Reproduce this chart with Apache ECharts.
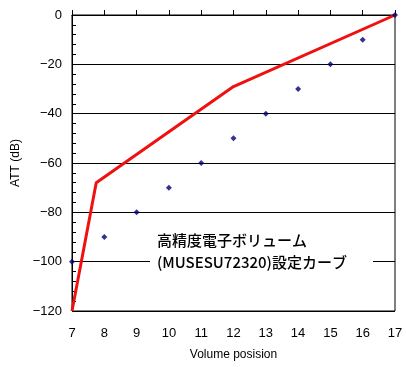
<!DOCTYPE html>
<html><head><meta charset="utf-8">
<script src="https://cdn.jsdelivr.net/npm/echarts@6/dist/echarts.min.js"></script>
<style>html,body{margin:0;padding:0;background:#fff}#c{width:406px;height:367px}</style>
</head><body><div id="c"></div>
<script>
var positions = [7, 8, 9, 10, 11, 12, 13, 14, 15, 16, 17];
var attValues = [-100, -90, -80, -70, -60, -50, -40, -30, -20, -10, 0];
var curveX = [7, 7.75, 12, 17];
var curveY = [-120, -68, -29, 0];
var yTicks = [-120, -100, -80, -60, -40, -20, 0];
var xTitle = 'Volume posision';
var yTitle = 'ATT (dB)';
var noteText = '高精度電子ボリューム\n(MUSESU72320)設定カーブ';

var chart = echarts.init(document.getElementById('c'));
var font = 'Liberation Sans, Arial, sans-serif';
chart.setOption({
  animation: false,
  backgroundColor: '#fff',
  grid: {left: 72, right: 11, top: 15, bottom: 56, show: true, borderColor: '#000', borderWidth: 1},
  xAxis: {
    type: 'value', min: positions[0], max: positions[positions.length-1], interval: 1,
    name: xTitle, nameLocation: 'middle', nameGap: 38,
    nameTextStyle: {color: '#000', fontSize: 12, fontFamily: font},
    axisLine: {lineStyle: {color: '#000', width: 1}},
    axisTick: {inside: true, length: 5, lineStyle: {color: '#000'}},
    axisLabel: {color: '#000', fontSize: 13, fontFamily: font, margin: 16},
    splitLine: {show: false}
  },
  yAxis: {
    type: 'value', min: yTicks[0], max: yTicks[yTicks.length-1], interval: 20,
    name: yTitle, nameLocation: 'middle', nameGap: 43, nameRotate: 90,
    nameTextStyle: {color: '#000', fontSize: 12, fontFamily: font},
    axisLine: {show: true, lineStyle: {color: '#000', width: 1}},
    axisTick: {inside: true, length: 5, lineStyle: {color: '#000'}},
    minorTick: {show: true, splitNumber: 5, length: 4, lineStyle: {color: '#000'}},
    axisLabel: {color: '#000', fontSize: 13, fontFamily: font, margin: 10,
      formatter: function(v){ return String(v).replace('-', '\u2212'); }},
    splitLine: {show: true, lineStyle: {color: '#000', width: 1}}
  },
  series: [
    {type: 'line', data: curveX.map(function(x,i){return [x, curveY[i]];}),
     symbol: 'none', lineStyle: {color: '#f01010', width: 3}, z: 3},
    {type: 'scatter', data: positions.map(function(x,i){return [x, attValues[i]];}),
     symbol: 'diamond', symbolSize: 6, itemStyle: {color: '#000070'}, z: 4}
  ],
  graphic: [
    {type: 'rect', shape: {x: 150, y: 230, width: 223, height: 42}, style: {fill: '#fff'}, z: 9},
    {type: 'text', left: 157, top: 229, z: 10,
     style: {text: noteText, font: '500 15px "Noto Sans CJK JP", sans-serif', fill: '#000', lineHeight: 22}}
  ]
});
</script></body></html>
